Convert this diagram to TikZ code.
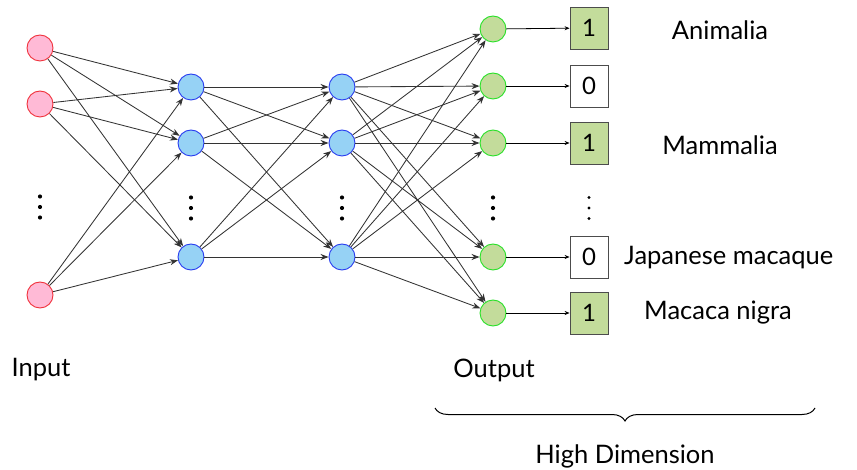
\documentclass[tikz,border=0pt]{standalone}
\usepackage{fontspec}
\setmainfont{Lato}
\usetikzlibrary{arrows.meta,decorations.pathreplacing}
\definecolor{inFill}{RGB}{255,186,214}
\definecolor{inDraw}{RGB}{240,50,60}
\definecolor{hidFill}{RGB}{150,210,245}
\definecolor{hidDraw}{RGB}{40,60,240}
\definecolor{outFill}{RGB}{195,220,155}
\definecolor{outDraw}{RGB}{40,225,40}
\tikzset{
  neuron/.style={circle,minimum size=26pt,inner sep=0pt,line width=0.9pt},
  inneuron/.style={neuron,fill=inFill,draw=inDraw},
  hidneuron/.style={neuron,fill=hidFill,draw=hidDraw},
  outneuron/.style={neuron,fill=outFill,draw=outDraw},
  bitbox/.style={draw=black!70,line width=0.8pt,minimum width=38pt,minimum height=42pt,inner sep=0pt,font=\fontsize{24}{24}\selectfont},
  onebox/.style={bitbox,fill=outFill},
  zerobox/.style={bitbox,fill=white},
  wire/.style={draw=black!80,line width=0.85pt,-{Stealth[length=8pt,width=6pt]}},
  shortwire/.style={draw=black,line width=0.8pt,-{Stealth[length=5pt,width=4pt]}},
  label/.style={font=\fontsize{25.5}{25.5}\selectfont,inner sep=0pt},
  dot/.style={circle,fill=black,minimum size=4.2pt,inner sep=0pt},
  smalldot/.style={dot,minimum size=3.4pt}
}
% a column of three dots centred at the given point
\newcommand{\dotcol}[4][dot]{%
  \node[#1] (#2a) at (#3,#4-10.5) {};
  \node[#1] (#2b) at (#3,#4) {};
  \node[#1] (#2c) at (#3,#4+10.5) {};}
\begin{document}
\begin{tikzpicture}[x=1pt,y=-1pt]
\useasboundingbox (0,0) rectangle (857,470);
% input layer
\node[inneuron] (i1) at (40,48) {};
\node[inneuron] (i2) at (40,104) {};
\node[inneuron] (i3) at (40,295) {};
\dotcol{di}{40}{207}
% first hidden layer
\node[hidneuron] (h1) at (191,87) {};
\node[hidneuron] (h2) at (191,143) {};
\node[hidneuron] (h3) at (191,257) {};
\dotcol{dh}{191}{208}
% second hidden layer
\node[hidneuron] (g1) at (342,87) {};
\node[hidneuron] (g2) at (342,143) {};
\node[hidneuron] (g3) at (342,257) {};
\dotcol{dg}{342}{208}
% output layer
\node[outneuron] (o1) at (493,29) {};
\node[outneuron] (o2) at (493,86) {};
\node[outneuron] (o3) at (493,143) {};
\node[outneuron] (o4) at (493,257) {};
\node[outneuron] (o5) at (493,313) {};
\dotcol{do}{493}{208}
% output bits
\node[onebox] (b1) at (589,28) {1};
\node[zerobox] (b2) at (589,86) {0};
\node[onebox] (b3) at (589,143) {1};
\node[zerobox] (b4) at (589,257) {0};
\node[onebox] (b5) at (589,313) {1};
\dotcol[smalldot]{db}{589}{208}
% fully connected layers
\foreach \a in {i1,i2,i3}
  \foreach \b in {h1,h2,h3}
    \draw[wire] (\a) -- (\b);
\foreach \a in {h1,h2,h3}
  \foreach \b in {g1,g2,g3}
    \draw[wire] (\a) -- (\b);
\foreach \a in {g1,g2,g3}
  \foreach \b in {o1,o2,o3,o4,o5}
    \draw[wire] (\a) -- (\b);
\foreach \k in {1,...,5}
  \draw[shortwire] (o\k) -- (b\k);
% class names
\node[label] (t1) at (720,30) {Animalia};
\node[label] (t3) at (720,145) {Mammalia};
\node[label,anchor=west] (t4) at (624,258) {Japanese macaque};
\node[label] (t5) at (718,313) {Macaca nigra};
% captions
\node[label] (lin) at (41,370) {Input};
\node[label] (lout) at (494,370) {Output};
\coordinate (bl) at (435,408);
\coordinate (br) at (815,408);
\draw[line width=1pt,decorate,decoration={brace,mirror,amplitude=13pt}] (bl) -- (br);
\node[label] (hd) at (625,456) {High Dimension};
\end{tikzpicture}
\end{document}
